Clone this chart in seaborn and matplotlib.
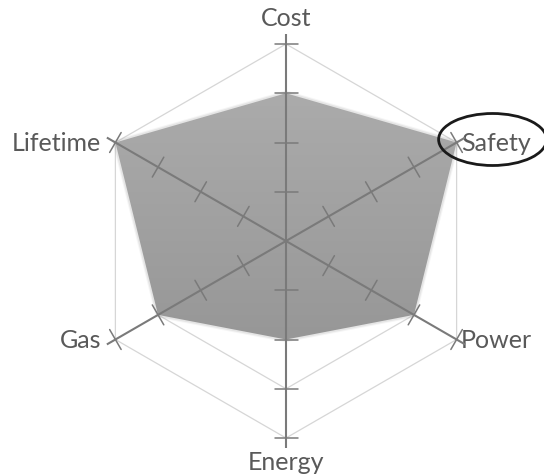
import numpy as np
import pandas as pd
import matplotlib
matplotlib.use("Agg")
import matplotlib.pyplot as plt
from matplotlib.patches import Polygon, Ellipse
from matplotlib.colors import LinearSegmentedColormap
import seaborn as sns

# ---- data ----
categories = ["Cost", "Safety", "Power", "Energy", "Gas", "Lifetime"]
values = [3, 4, 3, 2, 3, 4]
grid_levels = [1, 2, 3, 4]
highlight = "Safety"

sns.set_style("white")
plt.rcParams["font.family"] = ["Lato", "DejaVu Sans"]

W, H, DPI = 544, 477, 100
fig = plt.figure(figsize=(W / DPI, H / DPI), dpi=DPI)
ax = fig.add_axes([0, 0, 1, 1])

# scale: pixels per data unit, centre position in pixels
cx, cy = 286, 242
rmax = max(grid_levels)
ppu = 197 / rmax
ax.set_xlim(-cx / ppu, (W - cx) / ppu)
ax.set_ylim(-(H - cy) / ppu, cy / ppu)
ax.set_aspect("equal")
ax.axis("off")

n = len(categories)
angles = np.deg2rad(90 - 60 * np.arange(n))
ux, uy = np.cos(angles), np.sin(angles)

# ---- hexagon gridlines ----
rows = []
for lv in grid_levels:
    for k in list(range(n)) + [0]:
        rows.append({"level": lv, "x": lv * ux[k], "y": lv * uy[k]})
grid_df = pd.DataFrame(rows)
for lv, g in grid_df.groupby("level"):
    sns.lineplot(data=g, x="x", y="y", sort=False, estimator=None,
                 color="#d6d6d6", linewidth=0.9, ax=ax, zorder=1)

# ---- filled polygon with vertical gradient ----
vals = np.array(values, dtype=float)
px, py = vals * ux, vals * uy
poly = Polygon(np.column_stack([px, py]), closed=True, facecolor="none",
               edgecolor="none", zorder=2)
ax.add_patch(poly)
# soft edge
for lw, a in [(4, 0.10), (2.5, 0.18)]:
    ax.fill(np.r_[px, px[0]], np.r_[py, py[0]], facecolor="none",
            edgecolor="#a0a0a0", linewidth=lw, alpha=a, zorder=2)
cmap = LinearSegmentedColormap.from_list("g", ["#ababab", "#979797"])
grad = np.linspace(0, 1, 256).reshape(-1, 1)
im = ax.imshow(grad, cmap=cmap, aspect="auto", origin="upper",
               extent=[px.min(), px.max(), py.min(), py.max()], zorder=2.5)
im.set_clip_path(poly)
ax.set_xlim(-cx / ppu, (W - cx) / ppu)
ax.set_ylim(-(H - cy) / ppu, cy / ppu)

# ---- spokes with tick marks ----
axis_color = "#7a7a7a"
ext = 4.2
half = 11.5 / ppu
for k in range(n):
    ax.plot([0, ext * ux[k]], [0, ext * uy[k]], color=axis_color,
            linewidth=1.5, zorder=4, solid_capstyle="butt")
    perp = np.array([-uy[k], ux[k]])
    for lv in grid_levels:
        c = np.array([lv * ux[k], lv * uy[k]])
        p1, p2 = c - half * perp, c + half * perp
        ax.plot([p1[0], p2[0]], [p1[1], p2[1]], color=axis_color,
                linewidth=1.1, zorder=4)

# ---- labels ----
txt_color = "#595959"
fs = 18
for k, cat in enumerate(categories):
    x, y = rmax * ux[k], rmax * uy[k]
    if abs(ux[k]) < 1e-6:
        if uy[k] > 0:
            ax.text(0, (cy - 19) / ppu, cat, ha="center", va="center",
                    fontsize=fs, color=txt_color)
        else:
            ax.text(0, -(463 - cy) / ppu, cat, ha="center", va="center",
                    fontsize=fs, color=txt_color)
    elif ux[k] > 0:
        ax.text(x + 4.5 / ppu, y, cat, ha="left", va="center",
                fontsize=fs, color=txt_color)
    else:
        ax.text(x - 14 / ppu, y, cat, ha="right", va="center",
                fontsize=fs, color=txt_color)

# ---- highlight ellipse ----
k = categories.index(highlight)
ex = rmax * ux[k] + 36 / ppu
ey = rmax * uy[k] + 3 / ppu
ax.add_patch(Ellipse((ex, ey), 108 / ppu, 52 / ppu, facecolor="none",
                     edgecolor="#1a1a1a", linewidth=2.0, zorder=5))

fig.savefig("out.png", dpi=DPI)
